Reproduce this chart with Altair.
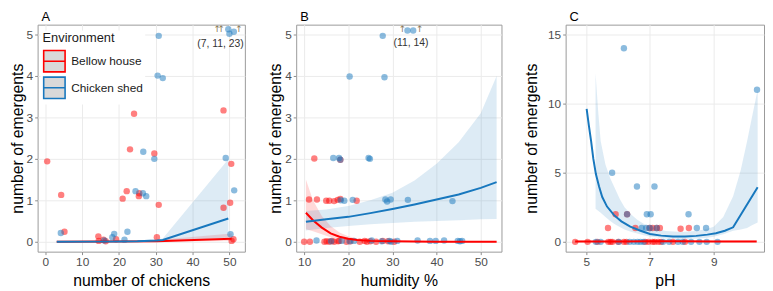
import altair as alt
import pandas as pd

ENV = ["Bellow house", "Chicken shed"]
RED = "#FF0000"
BLUE = "#1878BE"
COLORS = [RED, BLUE]
FONT = "Liberation Sans"

# ---------------- Panel A: number of chickens ----------------
a_red_x = [0.5, 4.3, 5.2, 14.4, 14.5, 15.8, 16.4, 19.2, 21.0, 22.1, 23.0, 24.1, 25.4, 25.5, 29.6, 30.3, 30.8, 48.4, 48.4, 50.2, 50.5, 50.6, 51.1]
a_red_y = [1.94, 1.13, 0.24, 0.13, 0.02, 0.05, 0.01, 0.06, 1.04, 1.22, 2.23, 3.09, 1.10, 1.17, 2.13, 0.11, 0.89, 3.17, 0.82, 0.94, 1.88, 0.02, 0.06]
a_blue_x = [4.2, 16.0, 18.2, 18.7, 21.5, 22.3, 24.5, 26.5, 27.4, 26.6, 29.6, 30.8, 30.5, 31.9, 49.0, 51.3, 50.3, 49.7, 50.0, 51.2]
a_blue_y = [0.21, 0.03, 0.11, 0.19, 0.05, 0.24, 1.22, 1.17, 1.10, 2.17, 2.00, 4.97, 4.01, 3.95, 2.02, 1.24, 0.18, 5.13, 5.02, 5.07]

a_red_fit_x = [3.1, 30.3, 50.6]
a_red_fit_y = [0.0, 0.01, 0.07]
a_red_lo = [0.0, 0.0, 0.02]
a_red_hi = [0.01, 0.04, 0.20]
a_blue_fit_x = [3.1, 14.4, 20.0, 25.0, 30.3, 31.9, 49.7]
a_blue_fit_y = [0.0, 0.002, 0.005, 0.01, 0.03, 0.04, 0.56]
a_blue_lo = [0.0, 0.0, 0.0, 0.0, 0.0, 0.0, 0.10]
a_blue_hi = [0.005, 0.01, 0.02, 0.03, 0.06, 0.08, 1.99]

a_ann_x = [46.7, 47.8, 52.6]
a_ann_y = [5.13, 5.13, 5.13]
a_label = ["(7, 11, 23)"]
a_label_x = [47.6]
a_label_y = [4.76]

# ---------------- Panel B: humidity ----------------
b_red_x = [12.3, 18.2, 11.1, 12.9, 15.0, 15.7, 16.8, 17.6, 18.2, 21.9,
           10.0, 11.3, 14.6, 15.1, 15.7, 16.3, 16.8, 17.7, 18.0, 19.6, 20.5, 22.6, 23.7, 24.2, 25.0, 26.3, 27.8, 29.0, 30.4]
b_red_y = [2.01, 1.98, 1.02, 1.02, 0.99, 0.99, 0.98, 1.01, 1.03, 0.99,
           0.0, 0.0, 0.0, 0.01, 0.0, 0.02, 0.0, 0.01, 0.02, 0.0, 0.01, 0.0, 0.02, 0.0, 0.01, 0.0, 0.02, 0.01, 0.0]
b_blue_x = [27.8, 20.3, 28.2, 33.4, 34.7, 16.6, 17.9, 18.2, 24.6, 24.9,
            18.3, 19.1, 21.0, 28.4, 28.8, 29.6, 33.5, 43.6,
            12.8, 16.1, 18.5, 20.3, 21.3, 25.3, 27.6, 29.3, 29.7, 31.1, 35.7, 38.5, 39.8, 41.7, 44.8, 45.3, 45.8]
b_blue_y = [4.97, 3.99, 3.97, 5.10, 5.10, 2.02, 2.02, 1.98, 2.02, 2.00,
            1.00, 0.99, 1.01, 1.02, 0.97, 1.02, 1.01, 0.98,
            0.03, 0.01, 0.02, 0.01, 0.02, 0.03, 0.01, 0.02, 0.0, 0.02, 0.03, 0.02, 0.02, 0.03, 0.02, 0.01, 0.02]

b_red_fit_x = [10.4, 12, 14, 16, 18, 20, 22, 25, 30, 40, 53.6]
b_red_fit_y = [0.70, 0.52, 0.34, 0.20, 0.12, 0.07, 0.04, 0.02, 0.01, 0.0, 0.0]
b_red_lo = [0.30, 0.25, 0.18, 0.11, 0.06, 0.03, 0.015, 0.005, 0.0, 0.0, 0.0]
b_red_hi = [1.50, 1.00, 0.62, 0.38, 0.22, 0.13, 0.08, 0.04, 0.02, 0.01, 0.01]
b_blue_fit_x = [10.4, 15, 20, 25, 30, 35, 40, 45, 50, 53.6]
b_blue_fit_y = [0.48, 0.54, 0.60, 0.69, 0.79, 0.90, 1.02, 1.14, 1.30, 1.44]
b_blue_lo = [0.27, 0.33, 0.38, 0.42, 0.45, 0.48, 0.50, 0.52, 0.54, 0.55]
b_blue_hi = [0.74, 0.78, 0.86, 1.00, 1.18, 1.48, 1.88, 2.40, 3.10, 4.00]

b_ann_x = [32.3, 36.2]
b_ann_y = [5.14, 5.14]
b_label = ["(11, 14)"]
b_label_x = [34.2]
b_label_y = [4.79]

# ---------------- Panel C: pH ----------------
c_red_x = [5.92, 6.28, 5.68, 6.54, 6.98, 7.08, 7.21, 7.31, 7.96, 8.22,
           4.65, 5.04, 5.35, 5.69, 5.76, 5.82, 6.00, 6.18, 6.26, 6.85, 6.95, 7.08, 7.15, 7.26, 7.35, 7.72, 8.10]
c_red_y = [2.0, 2.0, 1.0, 1.0, 1.0, 1.0, 1.0, 1.0, 0.95, 1.0,
           0.0, 0.0, 0.0, 0.0, 0.0, 0.0, 0.0, 0.0, 0.0, 0.0, 0.0, 0.0, 0.0, 0.0, 0.0, 0.0, 0.0]
c_blue_x = [6.18, 10.36, 5.81, 6.59, 7.14, 6.28, 6.90, 7.02, 8.21, 6.74, 6.88, 7.00, 7.21, 8.47, 8.76,
            5.30, 5.45, 6.02, 6.36, 6.49, 6.61, 6.70, 6.80, 7.41, 7.60, 7.88, 8.03, 8.29, 8.55, 8.78, 9.12]
c_blue_y = [14.0, 11.0, 5.0, 4.0, 4.0, 2.0, 2.0, 2.0, 2.0, 1.0, 1.0, 1.0, 1.0, 1.0, 1.0,
            0.0, 0.0, 0.0, 0.0, 0.0, 0.0, 0.0, 0.0, 0.0, 0.0, 0.0, 0.0, 0.0, 0.0, 0.0, 0.0]

c_red_fit_x = [4.65, 6.0, 7.0, 8.0, 9.0, 10.35]
c_red_fit_y = [0.02, 0.03, 0.04, 0.04, 0.03, 0.02]
c_red_lo = [0.0, 0.0, 0.0, 0.0, 0.0, 0.0]
c_red_hi = [0.12, 0.10, 0.10, 0.10, 0.10, 0.12]
c_blue_fit_x = [5.01, 5.08, 5.15, 5.22, 5.30, 5.40, 5.50, 5.65, 5.87, 6.10, 6.38, 6.70, 7.00, 7.35,
                7.72, 8.10, 8.45, 8.80, 9.07, 9.35, 9.61, 10.38]
c_blue_fit_y = [9.62, 8.40, 7.29, 6.00, 4.90, 4.00, 3.24, 2.55, 1.93, 1.48, 1.10, 0.80, 0.57, 0.45,
                0.38, 0.38, 0.43, 0.52, 0.62, 0.80, 1.05, 3.95]
c_rib_x = [5.29, 5.37, 5.45, 5.6, 5.75, 5.87, 6.05, 6.2, 6.4, 6.6, 6.8, 7.0, 7.5, 8.0, 8.5, 8.8, 9.0, 9.3,
           9.61, 9.85, 10.05, 10.2, 10.38]
c_blue_lo = [2.4, 2.25, 2.1, 1.8, 1.5, 1.3, 1.08, 0.9, 0.73, 0.6, 0.48, 0.38, 0.24, 0.2, 0.24, 0.3,
             0.36, 0.55, 0.8, 0.9, 1.0, 1.2, 1.4]
c_blue_hi = [12.2, 9.5, 7.3, 5.6, 4.6, 4.0, 3.1, 2.5, 2.0, 1.6, 1.3, 1.05, 0.78, 0.72, 0.8, 0.95,
             1.1, 1.8, 3.3, 5.2, 7.3, 9.0, 11.0]


def long_df(rx, ry, bx, by):
    return pd.DataFrame({"x": rx + bx, "y": ry + by,
                         "env": [ENV[0]] * len(rx) + [ENV[1]] * len(bx)})


def ribs(rx, rlo, rhi, bx, blo, bhi):
    return pd.DataFrame({"x": rx + bx, "lo": rlo + blo, "hi": rhi + bhi,
                         "env": [ENV[0]] * len(rx) + [ENV[1]] * len(bx)})


cscale = alt.Scale(domain=ENV, range=COLORS)

legendA = alt.Legend(
    title="Environment", orient="none", legendX=3, legendY=6, direction="vertical",
    symbolType="M-1,-1H1V1H-1Z M-1,0H1", symbolSize=470, symbolStrokeWidth=1.6,
    symbolFillColor="#D9D9D9", symbolOpacity=1, fillColor="white", padding=2,
    titleFontSize=13, titleFontWeight="normal", titleColor="#1A1A1A", titleFont=FONT,
    titlePadding=4, labelFontSize=12, labelColor="#1A1A1A", labelFont=FONT,
    labelOffset=5, rowPadding=-9,
)


def panel(title, p, f, r, xdom, xticks, xtitle, ydom, yticks, ytp, width,
          legend, ann_x, ann_y, lab, lab_x, lab_y):
    xs = alt.Scale(domain=xdom, nice=False, zero=False)
    ys = alt.Scale(domain=ydom, nice=False, zero=False)
    xax = alt.Axis(values=xticks, title=xtitle, format="d")
    yax = alt.Axis(values=yticks, title="number of emergents", titlePadding=ytp, format="d")
    X = alt.X("x:Q", scale=xs, axis=xax)
    Y = alt.Y("y:Q", scale=ys, axis=yax)

    layers = []
    for env, col in zip(ENV, COLORS):
        layers.append(
            alt.Chart(r).transform_filter(alt.datum.env == env).mark_area(
                opacity=0.15, clip=True, color=col
            ).encode(
                x=alt.X("x:Q", scale=xs, axis=xax),
                y=alt.Y("lo:Q", scale=ys, axis=yax),
                y2="hi:Q",
            )
        )
    for env, col in zip(ENV, COLORS):
        layers.append(
            alt.Chart(p).transform_filter(alt.datum.env == env).mark_circle(
                size=42, opacity=0.5, clip=True, color=col
            ).encode(x=X, y=Y)
        )
    layers.append(
        alt.Chart(f).mark_line(strokeWidth=2, clip=True).encode(
            x=X, y=Y, color=alt.Color("env:N", scale=cscale, legend=legend)
        )
    )
    if ann_x:
        arrows = alt.Chart(pd.DataFrame({"x": ann_x, "y": ann_y})).mark_text(
            text="↑", font="DejaVu Sans", fontSize=9, color="#8A7A5A", baseline="middle"
        ).encode(x=X, y=Y)
        labels = alt.Chart(pd.DataFrame({"x": lab_x, "y": lab_y, "t": lab})).mark_text(
            font=FONT, fontSize=10.5, color="#333333", baseline="middle"
        ).encode(x=X, y=Y, text="t:N")
        layers += [arrows, labels]
    return alt.layer(*layers).properties(
        width=width, height=230,
        title=alt.TitleParams(title, anchor="start", frame="group", dx=4, offset=1),
    )


pA = panel("A", long_df(a_red_x, a_red_y, a_blue_x, a_blue_y),
           long_df(a_red_fit_x, a_red_fit_y, a_blue_fit_x, a_blue_fit_y),
           ribs(a_red_fit_x, a_red_lo, a_red_hi, a_blue_fit_x, a_blue_lo, a_blue_hi),
           [-2.1, 54.2], [0, 10, 20, 30, 40, 50], "number of chickens",
           [-0.24, 5.24], [0, 1, 2, 3, 4, 5], 1, 210, legendA,
           a_ann_x, a_ann_y, a_label, a_label_x, a_label_y)

pB = panel("B", long_df(b_red_x, b_red_y, b_blue_x, b_blue_y),
           long_df(b_red_fit_x, b_red_fit_y, b_blue_fit_x, b_blue_fit_y),
           ribs(b_red_fit_x, b_red_lo, b_red_hi, b_blue_fit_x, b_blue_lo, b_blue_hi),
           [8.2, 54.7], [10, 20, 30, 40, 50], "humidity %",
           [-0.24, 5.24], [0, 1, 2, 3, 4, 5], 1, 208, None,
           b_ann_x, b_ann_y, b_label, b_label_x, b_label_y)

pC = panel("C", long_df(c_red_x, c_red_y, c_blue_x, c_blue_y),
           long_df(c_red_fit_x, c_red_fit_y, c_blue_fit_x, c_blue_fit_y),
           ribs(c_red_fit_x, c_red_lo, c_red_hi, c_rib_x, c_blue_lo, c_blue_hi),
           [4.35, 10.58], [5, 7, 9], "pH",
           [-0.71, 15.71], [0, 5, 10, 15], 8, 201, None,
           [], [], [], [], [])

chart = alt.hconcat(pA, pB, pC, spacing=21).resolve_scale(
    color="independent"
).resolve_legend(
    color="independent"
).properties(
    padding={"left": 0, "top": 0, "right": 0, "bottom": 0}
).configure_axis(
    grid=True, gridColor="#EBEBEB", gridWidth=1, domain=False,
    tickColor="#8C8C8C", tickSize=3, tickWidth=1,
    labelColor="#4D4D4D", labelFont=FONT, labelFontSize=12, labelPadding=2,
    titleFont=FONT, titleFontSize=16, titleFontWeight="normal", titleColor="#000000",
).configure_axisX(titlePadding=5).configure_view(
    stroke="#999999", strokeWidth=1
).configure_title(
    font=FONT, fontSize=13, fontWeight="normal", color="#000000"
).configure_legend(symbolBaseFillColor="#D9D9D9")

chart.save("out.html", embed_options={"renderer": "svg", "actions": False})
